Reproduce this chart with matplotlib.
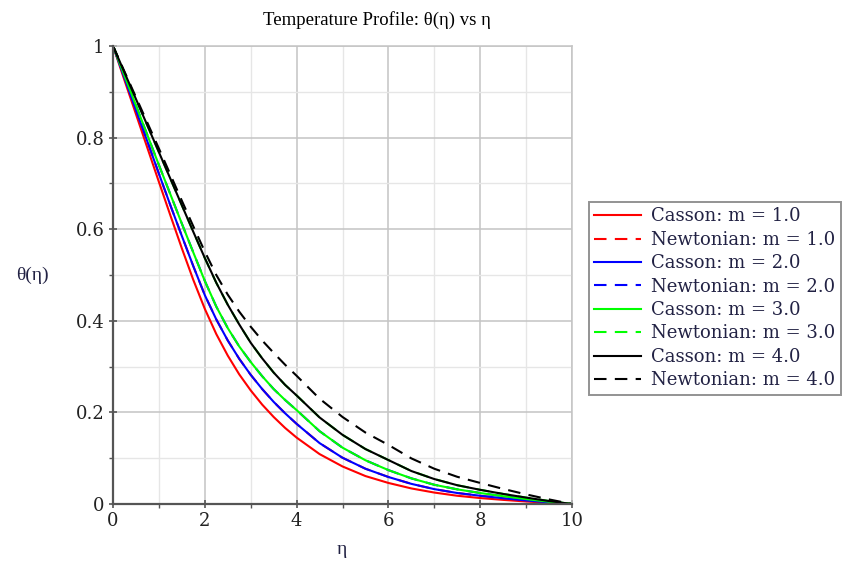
import matplotlib
matplotlib.use("Agg")
import matplotlib.pyplot as plt
from matplotlib.ticker import MultipleLocator, FuncFormatter

# finer steps where the profiles bend the most
eta = [0.0, 0.25, 0.5, 0.75, 1.0, 1.25, 1.5, 1.75, 2.0, 2.25, 2.5, 2.75, 3.0,
       3.25, 3.5, 3.75, 4.0, 4.5, 5.0, 5.5, 6.0, 6.5, 7.0, 7.5, 8.0, 8.5,
       9.0, 9.5, 10.0]

casson_m1 = [1.0, 0.925, 0.851, 0.777, 0.703, 0.630, 0.558, 0.489, 0.426, 0.371,
             0.324, 0.283, 0.248, 0.217, 0.190, 0.166, 0.145, 0.109, 0.082, 0.061,
             0.046, 0.034, 0.025, 0.018, 0.013, 0.009, 0.0055, 0.0025, 0.0]
casson_m2 = [1.0, 0.930, 0.860, 0.791, 0.721, 0.652, 0.585, 0.519, 0.456, 0.403,
             0.357, 0.317, 0.282, 0.251, 0.223, 0.198, 0.175, 0.133, 0.101, 0.077,
             0.059, 0.044, 0.0325, 0.024, 0.018, 0.0125, 0.0078, 0.0035, 0.0]
casson_m3 = [1.0, 0.935, 0.870, 0.805, 0.740, 0.676, 0.612, 0.549, 0.487, 0.431,
             0.384, 0.344, 0.310, 0.279, 0.251, 0.227, 0.205, 0.159, 0.123, 0.0955,
             0.074, 0.056, 0.042, 0.032, 0.024, 0.017, 0.0107, 0.005, 0.0]
casson_m4 = [1.0, 0.942, 0.884, 0.826, 0.768, 0.710, 0.652, 0.594, 0.537, 0.483,
             0.435, 0.392, 0.352, 0.318, 0.287, 0.260, 0.237, 0.189, 0.151, 0.120,
             0.096, 0.072, 0.0545, 0.041, 0.031, 0.022, 0.014, 0.0065, 0.0]

newtonian_m1 = [1.0, 0.930, 0.860, 0.791, 0.721, 0.652, 0.585, 0.519, 0.456, 0.403,
                0.357, 0.317, 0.282, 0.251, 0.223, 0.198, 0.175, 0.133, 0.101, 0.077,
                0.059, 0.044, 0.0325, 0.024, 0.018, 0.0125, 0.0078, 0.0035, 0.0]
newtonian_m2 = [1.0, 0.935, 0.870, 0.805, 0.740, 0.676, 0.612, 0.549, 0.487, 0.431,
                0.384, 0.344, 0.310, 0.279, 0.251, 0.227, 0.205, 0.159, 0.123, 0.0955,
                0.074, 0.056, 0.042, 0.032, 0.024, 0.017, 0.0107, 0.005, 0.0]
newtonian_m3 = [1.0, 0.942, 0.884, 0.826, 0.768, 0.710, 0.652, 0.594, 0.537, 0.483,
                0.435, 0.392, 0.352, 0.318, 0.287, 0.260, 0.237, 0.189, 0.151, 0.120,
                0.096, 0.072, 0.0545, 0.041, 0.031, 0.022, 0.014, 0.0065, 0.0]
newtonian_m4 = [1.0, 0.944, 0.888, 0.832, 0.776, 0.719, 0.662, 0.606, 0.551, 0.500,
                0.457, 0.420, 0.387, 0.357, 0.330, 0.304, 0.280, 0.230, 0.190, 0.156,
                0.129, 0.0996, 0.077, 0.0594, 0.046, 0.033, 0.021, 0.010, 0.0]

m_values = ["1.0", "2.0", "3.0", "4.0"]
colors = ["#ff0000", "#0000ff", "#00ff00", "#000000"]
casson = [casson_m1, casson_m2, casson_m3, casson_m4]
newtonian = [newtonian_m1, newtonian_m2, newtonian_m3, newtonian_m4]

fig = plt.figure(figsize=(8.48, 5.67), dpi=100)
ax = fig.add_axes([0.1333, 0.1111, 0.5412, 0.8078])

for m, c, cs, nw in zip(m_values, colors, casson, newtonian):
    ax.plot(eta, cs, color=c, linewidth=1.5, label=f"Casson: m = {m}")
    ax.plot(eta, nw, color=c, linewidth=1.5, linestyle=(0, (6, 4)),
            label=f"Newtonian: m = {m}")

ax.set_xlim(0, 10)
ax.set_ylim(0, 1)
ax.xaxis.set_major_locator(MultipleLocator(2))
ax.xaxis.set_minor_locator(MultipleLocator(1))
ax.yaxis.set_major_locator(MultipleLocator(0.2))
ax.yaxis.set_minor_locator(MultipleLocator(0.1))


def y_label(v, pos):
    v = round(v, 6)
    if v == 0 or v == 1:
        return f"{int(v)}"
    return f"{v:.1f}"


ax.yaxis.set_major_formatter(FuncFormatter(y_label))

ax.grid(True, which="major", color="#c4c4c4", linewidth=1.1)
ax.grid(True, which="minor", color="#e6e6e6", linewidth=1.0)
ax.set_axisbelow(True)

for side in ["top", "right"]:
    ax.spines[side].set_color("#c4c4c4")
    ax.spines[side].set_linewidth(1.1)
for side in ["left", "bottom"]:
    ax.spines[side].set_color("#555555")
    ax.spines[side].set_linewidth(1.6)
    ax.spines[side].set_zorder(5)

ax.tick_params(which="major", direction="inout", length=6, width=1.2,
               color="#555555", labelsize=13, pad=3)
ax.tick_params(which="minor", direction="out", length=3, width=1.0, color="#555555")
for lbl in ax.get_xticklabels() + ax.get_yticklabels():
    lbl.set_fontfamily("DejaVu Serif")
    lbl.set_color("#222222")

fig.text(377 / 848, 1 - 20 / 567, "Temperature Profile: θ(η) vs η",
         ha="center", va="center", fontsize=13.5, family="Liberation Serif")
fig.text(32 / 848, 1 - 275 / 567, "θ(η)", ha="center", va="center",
         fontsize=14, family="Liberation Serif", color="#222244")
fig.text(342 / 848, 1 - 550 / 567, "η", ha="center", va="center",
         fontsize=14, family="Liberation Serif", color="#222244")

leg = ax.legend(loc="upper left", bbox_to_anchor=(589 / 848, 1 - 202 / 567),
                bbox_transform=fig.transFigure, frameon=True, fancybox=False,
                prop={"family": "DejaVu Serif", "size": 13}, handlelength=2.6,
                handletextpad=0.55, labelspacing=0.3, borderpad=0.3,
                borderaxespad=0)
leg.get_frame().set_edgecolor("#777777")
leg.get_frame().set_linewidth(1.4)
for t in leg.get_texts():
    t.set_color("#222244")

fig.savefig("out.png", dpi=100)
